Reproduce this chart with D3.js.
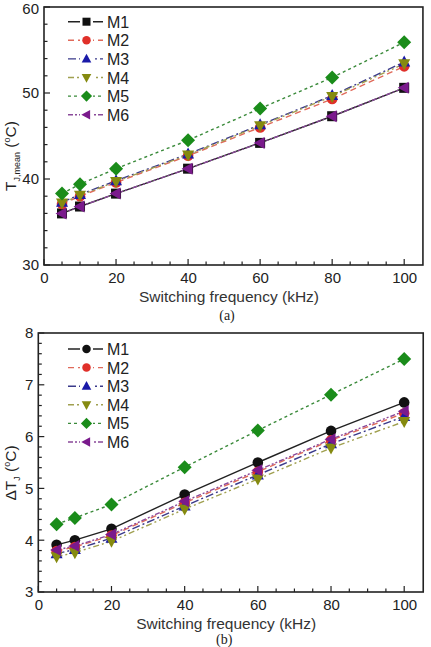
<!DOCTYPE html>
<html><head><meta charset="utf-8">
<script src="https://cdn.jsdelivr.net/npm/d3@7"></script>
<style>body{margin:0;background:#fff}svg{display:block}text{font-family:"Liberation Sans",Arial,sans-serif}</style>
</head><body><svg id="c" width="431" height="647"></svg>
<script>
const freq = [5, 10, 20, 40, 60, 80, 100];
const seriesNames = ["M1", "M2", "M3", "M4", "M5", "M6"];
// (a) mean junction temperature
const tMeanM1 = [36.0, 36.8, 38.3, 41.2, 44.2, 47.3, 50.6];
const tMeanM2 = [37.1, 38.0, 39.6, 42.7, 46.0, 49.3, 53.1];
const tMeanM3 = [37.3, 38.2, 39.8, 42.9, 46.3, 49.7, 53.6];
const tMeanM4 = [37.2, 38.1, 39.7, 42.8, 46.2, 49.6, 53.4];
const tMeanM5 = [38.3, 39.4, 41.2, 44.5, 48.2, 51.8, 55.9];
const tMeanM6 = [36.0, 36.8, 38.3, 41.2, 44.2, 47.3, 50.6];
// (b) junction temperature swing
const dTM1 = [3.91, 4.00, 4.22, 4.88, 5.50, 6.11, 6.66];
const dTM2 = [3.79, 3.87, 4.09, 4.72, 5.32, 5.93, 6.45];
const dTM3 = [3.74, 3.82, 4.04, 4.66, 5.26, 5.86, 6.39];
const dTM4 = [3.68, 3.76, 3.98, 4.60, 5.18, 5.78, 6.29];
const dTM5 = [4.31, 4.43, 4.69, 5.41, 6.12, 6.81, 7.50];
const dTM6 = [3.81, 3.89, 4.11, 4.75, 5.35, 5.95, 6.49];
const xTicks = [0, 20, 40, 60, 80, 100];
const yTicksA = [30, 40, 50, 60];
const yTicksB = [3, 4, 5, 6, 7, 8];

const styles = {
  M1:{color:"#111", dash:null, markA:"square", markB:"circle"},
  M2:{color:"#e0302a", dash:"6,4", markA:"circle", markB:"circle"},
  M3:{color:"#1a1aa8", dash:"8,3,2,3", markA:"triUp", markB:"triUp"},
  M4:{color:"#858a10", dash:"6,3,2,3,2,3", markA:"triDown", markB:"triDown"},
  M5:{color:"#1a8c1a", dash:"3,3", markA:"diamond", markB:"diamond"},
  M6:{color:"#7a1a8c", dash:"5,2,2,2,2,2", markA:"triLeft", markB:"triLeft"}
};
const lineCol = {M1:"#222", M2:"#e06a5a", M3:"#3a3a8a", M4:"#a0a050", M5:"#3a8a3a", M6:"#8a4a9a"};

const svg = d3.select("#c");

function marker(g, type, cx, cy, col){
  let p;
  if(type==="square") return g.append("rect").attr("x",cx-5).attr("y",cy-5).attr("width",10).attr("height",10).attr("fill",col);
  if(type==="circle") return g.append("circle").attr("cx",cx).attr("cy",cy).attr("r",5.3).attr("fill",col);
  if(type==="triUp") p=[[cx,cy-6.5],[cx+6,cy+4.5],[cx-6,cy+4.5]];
  if(type==="triDown") p=[[cx,cy+6.5],[cx+6,cy-4.5],[cx-6,cy-4.5]];
  if(type==="triLeft") p=[[cx-6.5,cy],[cx+4.5,cy-6],[cx+4.5,cy+6]];
  if(type==="diamond") p=[[cx,cy-7],[cx+7,cy],[cx,cy+7],[cx-7,cy]];
  return g.append("path").attr("d","M"+p.map(d=>d.join(",")).join("L")+"Z").attr("fill",col);
}

function panel(cfg){
  const g = svg.append("g");
  const x = d3.scaleLinear().domain([0,105.2]).range([cfg.x0, cfg.x0 + (404.2-cfg.x0)*1.052]);
  const y = d3.scaleLinear().domain(cfg.ydom).range([cfg.yb, cfg.yt]);
  const [L,R,T,B] = [x.range()[0], x.range()[1], cfg.yt, cfg.yb];
  const xa = g.append("g").attr("transform",`translate(0,${B})`)
    .call(d3.axisBottom(x).tickValues(xTicks).tickFormat(d3.format("d")).tickSize(0).tickPadding(7));
  xa.selectAll("text").attr("font-size",15).attr("fill","#222");
  xa.select(".domain").remove();
  const ya = g.append("g").attr("transform",`translate(${L},0)`)
    .call(d3.axisLeft(y).tickValues(cfg.yticks).tickFormat(d3.format("d")).tickSize(0).tickPadding(5));
  ya.selectAll("text").attr("font-size",15).attr("fill","#222");
  ya.select(".domain").remove();
  if (cfg.topNudge) ya.selectAll("text").filter(d=>d===cfg.ydom[1]).attr("dy","0.42em");
  d3.range(0,101,5).forEach(v=>{
    g.append("line").attr("x1",x(v)).attr("x2",x(v)).attr("y1",B).attr("y2",B-(v%20===0?6:3.5)).attr("stroke","#222").attr("stroke-width",1.2);
  });
  const ys = d3.range(cfg.ydom[0], cfg.ydom[1]+1e-9, cfg.minor);
  ys.forEach(v=>{
    const major = cfg.yticks.some(t=>Math.abs(t-v)<1e-6);
    g.append("line").attr("x1",L).attr("x2",L+(major?6:3.5)).attr("y1",y(v)).attr("y2",y(v)).attr("stroke","#222").attr("stroke-width",1.2);
  });
  g.append("rect").attr("x",L).attr("y",T).attr("width",R-L).attr("height",B-T).attr("fill","none").attr("stroke","#222").attr("stroke-width",1.6);
  const line = d3.line().x((d,i)=>x(freq[i])).y(d=>y(d));
  seriesNames.forEach((n,k)=>{
    const st = styles[n], vals = cfg.data[k];
    g.append("path").attr("d",line(vals)).attr("fill","none").attr("stroke",lineCol[n]).attr("stroke-width",1.4).attr("stroke-dasharray",st.dash);
  });
  seriesNames.forEach((n,k)=>{
    const st = styles[n], vals = cfg.data[k];
    vals.forEach((v,i)=>marker(g, cfg.mk==="A"?st.markA:st.markB, x(freq[i]), y(v), st.color));
  });
  seriesNames.forEach((n,k)=>{
    const st = styles[n], ly = cfg.legY + k*18.6;
    g.append("line").attr("x1",68).attr("x2",103).attr("y1",ly).attr("y2",ly).attr("stroke",lineCol[n]).attr("stroke-width",1.4).attr("stroke-dasharray",st.dash);
    g.append("rect").attr("x",80).attr("y",ly-6).attr("width",13).attr("height",12).attr("fill","#fff");
    marker(g, cfg.mk==="A"?st.markA:st.markB, 86.5, ly, st.color).attr("transform",`translate(${86.5},${ly}) scale(0.8) translate(${-86.5},${-ly})`);
    g.append("text").attr("x",107).attr("y",ly+6).attr("font-size",16).attr("fill","#222").text(n);
  });
  g.append("text").attr("x",(L+404)/2+5).attr("y",cfg.xtY).attr("text-anchor","middle").attr("font-size",15.5).attr("fill","#333").text("Switching frequency (kHz)");
  g.append("text").attr("x",(L+404)/2+3).attr("y",cfg.capY).attr("text-anchor","middle").attr("font-size",14).attr("fill","#222")
    .style("font-family","'Liberation Serif','Times New Roman',serif").text(cfg.cap);
  return {g,x,y};
}

panel({x0:44, yt:7, yb:265, ydom:[30,60], yticks:yTicksA, minor:2, topNudge:true,
  data:[tMeanM1,tMeanM2,tMeanM3,tMeanM4,tMeanM5,tMeanM6], mk:"A", legY:21.7, xtY:302, capY:320, cap:"(a)"});
panel({x0:38.3, yt:333, yb:592, ydom:[3,8], yticks:yTicksB, minor:0.2,
  data:[dTM1,dTM2,dTM3,dTM4,dTM5,dTM6], mk:"B", legY:349, xtY:628.5, capY:644, cap:"(b)"});

const ta = svg.append("text").attr("transform","translate(16,156) rotate(-90)").attr("text-anchor","middle").attr("font-size",15.5).attr("fill","#222");
ta.append("tspan").text("T");
ta.append("tspan").attr("font-size",9).attr("dy",4).text("J,mean");
ta.append("tspan").attr("dy",-4).text(" (");
ta.append("tspan").attr("font-size",9).attr("dy",-6).text("o");
ta.append("tspan").attr("dy",6).text("C)");
const tb = svg.append("text").attr("transform","translate(16,473) rotate(-90)").attr("text-anchor","middle").attr("font-size",15.5).attr("fill","#222");
tb.append("tspan").text("ΔT");
tb.append("tspan").attr("font-size",9).attr("dy",4).text("J");
tb.append("tspan").attr("dy",-4).text(" (");
tb.append("tspan").attr("font-size",9).attr("dy",-6).text("o");
tb.append("tspan").attr("dy",6).text("C)");
</script></body></html>
